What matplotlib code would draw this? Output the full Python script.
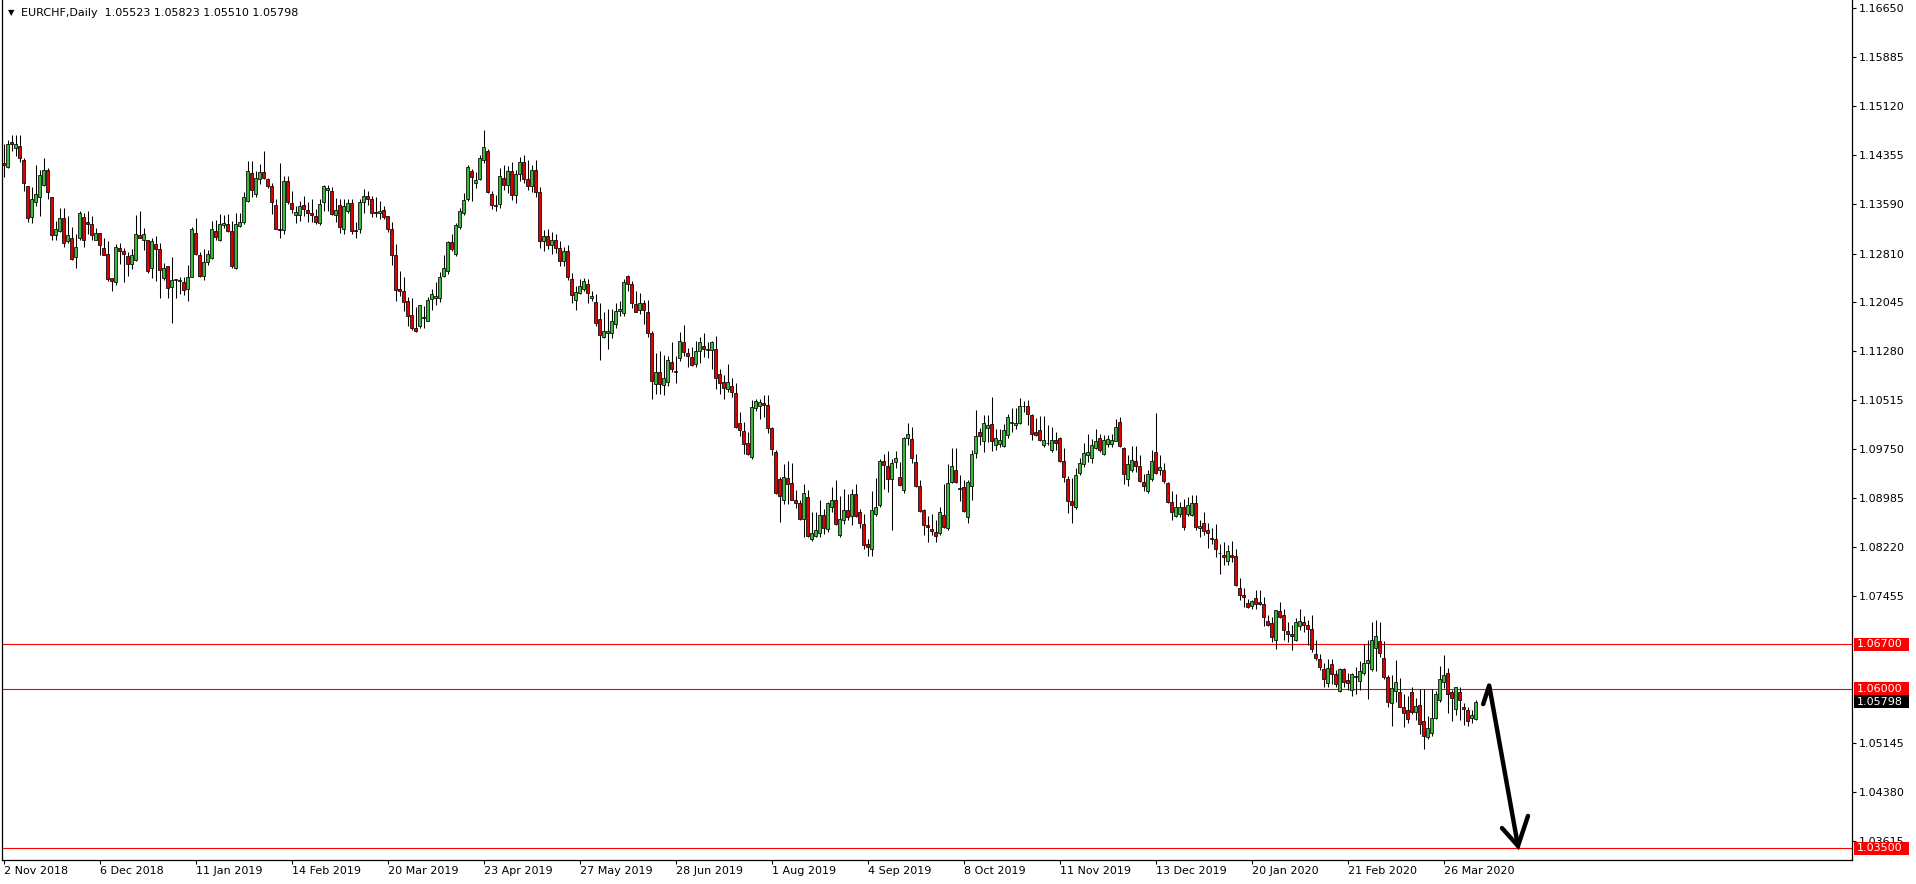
import matplotlib
matplotlib.use("Agg")
import matplotlib.pyplot as plt
from matplotlib.patches import Rectangle
import matplotlib.transforms as mtrans
import numpy as np

plt.rcParams['font.family'] = ['DejaVu Sans']

# ---------------- data (EURCHF daily) ----------------
opens = [
 1.1423,1.1417,1.1455,1.1446,1.1450,1.1428,1.1387,1.1339,1.1362,1.1370,
 1.1389,1.1412,1.1370,1.1310,1.1317,1.1337,1.1301,1.1305,1.1275,1.1305,
 1.1338,1.1330,1.1327,1.1303,1.1313,1.1290,1.1280,1.1242,1.1236,1.1290,
 1.1285,1.1277,1.1264,1.1271,1.1310,1.1303,1.1303,1.1259,1.1296,1.1288,
 1.1243,1.1262,1.1228,1.1239,1.1238,1.1236,1.1225,1.1245,1.1313,1.1278,
 1.1246,1.1268,1.1274,1.1317,1.1303,1.1325,1.1327,1.1316,1.1258,1.1324,
 1.1331,1.1363,1.1407,1.1374,1.1397,1.1409,1.1397,1.1387,1.1357,1.1319,
 1.1318,1.1395,1.1360,1.1342,1.1341,1.1357,1.1349,1.1345,1.1340,1.1329,
 1.1361,1.1381,1.1379,1.1342,1.1357,1.1320,1.1347,1.1360,1.1318,1.1320,
 1.1361,1.1371,1.1366,1.1346,1.1344,1.1349,1.1340,1.1319,1.1279,1.1225,
 1.1223,1.1206,1.1185,1.1165,1.1167,1.1180,1.1176,1.1210,1.1211,1.1211,
 1.1246,1.1254,1.1299,1.1280,1.1322,1.1344,1.1366,1.1410,1.1392,1.1397,
 1.1427,1.1441,1.1374,1.1355,1.1358,1.1400,1.1388,1.1410,1.1372,1.1405,
 1.1425,1.1398,1.1386,1.1412,1.1378,1.1300,1.1308,1.1295,1.1302,1.1290,
 1.1270,1.1285,1.1241,1.1209,1.1219,1.1225,1.1234,1.1211,1.1205,1.1178,
 1.1151,1.1157,1.1156,1.1170,1.1191,1.1188,1.1246,1.1233,1.1202,1.1192,
 1.1203,1.1190,1.1156,1.1077,1.1096,1.1075,1.1080,1.1112,1.1096,1.1117,
 1.1143,1.1126,1.1119,1.1108,1.1128,1.1137,1.1130,1.1130,1.1131,1.1092,
 1.1080,1.1069,1.1074,1.1063,1.1016,1.1004,1.0985,1.0963,1.1039,1.1042,
 1.1047,1.1044,1.1008,1.0971,1.0929,1.0896,1.0930,1.0922,1.0895,1.0891,
 1.0866,1.0900,1.0835,1.0839,1.0844,1.0872,1.0850,1.0885,1.0896,1.0841,
 1.0864,1.0879,1.0870,1.0904,1.0876,1.0858,1.0826,1.0819,1.0873,1.0887,
 1.0957,1.0949,1.0928,1.0955,1.0931,1.0911,1.0993,1.0991,1.0955,1.0918,
 1.0879,1.0856,1.0850,1.0846,1.0843,1.0872,1.0851,1.0923,1.0942,1.0913,
 1.0915,1.0868,1.0917,1.0969,1.1002,1.0987,1.1008,1.1014,1.0982,1.0983,
 1.0980,1.0997,1.1016,1.1013,1.1016,1.1042,1.1043,1.1028,1.1002,1.1005,
 1.0982,1.0984,1.0974,1.0989,1.0993,1.0957,1.0929,1.0894,1.0884,1.0937,
 1.0951,1.0965,1.0961,1.0977,1.0993,1.0968,1.0983,1.0983,1.0988,1.1018,
 1.0976,1.0928,1.0943,1.0956,1.0949,1.0924,1.0910,1.0929,1.0971,1.0943,
 1.0942,1.0922,1.0892,1.0870,1.0874,1.0884,1.0874,1.0872,1.0891,1.0851,
 1.0860,1.0848,1.0835,1.0835,1.0812,1.0809,1.0800,1.0809,1.0807,1.0758,
 1.0747,1.0734,1.0730,1.0742,1.0735,1.0733,1.0706,1.0703,1.0676,1.0721,
 1.0715,1.0690,1.0685,1.0676,1.0698,1.0704,1.0699,1.0694,1.0654,1.0647,
 1.0631,1.0609,1.0639,1.0623,1.0597,1.0631,1.0614,1.0598,1.0618,1.0612,
 1.0624,1.0641,1.0631,1.0664,1.0675,1.0648,1.0619,1.0578,1.0596,1.0595,
 1.0572,1.0566,1.0595,1.0563,1.0574,1.0549,1.0524,1.0530,1.0554,1.0582,
 1.0610,1.0624,1.0595,1.0568,1.0595,1.0572,1.0566,1.0554,1.05523,
]
highs = [
 1.1453,1.1459,1.1467,1.1467,1.1467,1.1430,1.1387,1.1385,1.1419,1.1411,
 1.1430,1.1415,1.1370,1.1332,1.1352,1.1352,1.1340,1.1322,1.1311,1.1347,
 1.1345,1.1347,1.1340,1.1321,1.1313,1.1306,1.1301,1.1242,1.1296,1.1298,
 1.1290,1.1283,1.1288,1.1341,1.1347,1.1321,1.1303,1.1306,1.1309,1.1298,
 1.1267,1.1262,1.1276,1.1241,1.1244,1.1244,1.1263,1.1322,1.1336,1.1283,
 1.1288,1.1286,1.1332,1.1333,1.1343,1.1341,1.1343,1.1332,1.1345,1.1345,
 1.1378,1.1426,1.1426,1.1410,1.1421,1.1441,1.1400,1.1392,1.1366,1.1422,
 1.1403,1.1403,1.1379,1.1356,1.1363,1.1371,1.1362,1.1366,1.1350,1.1366,
 1.1388,1.1388,1.1385,1.1368,1.1366,1.1366,1.1366,1.1366,1.1330,1.1366,
 1.1382,1.1379,1.1371,1.1370,1.1363,1.1356,1.1340,1.1330,1.1296,1.1254,
 1.1244,1.1213,1.1211,1.1197,1.1201,1.1199,1.1213,1.1226,1.1237,1.1252,
 1.1278,1.1301,1.1311,1.1329,1.1352,1.1376,1.1419,1.1413,1.1408,1.1436,
 1.1474,1.1444,1.1379,1.1372,1.1415,1.1420,1.1418,1.1425,1.1412,1.1432,
 1.1435,1.1428,1.1420,1.1428,1.1385,1.1318,1.1320,1.1315,1.1312,1.1300,
 1.1292,1.1295,1.1250,1.1230,1.1241,1.1243,1.1241,1.1222,1.1218,1.1203,
 1.1189,1.1194,1.1194,1.1203,1.1207,1.1241,1.1248,1.1238,1.1223,1.1219,
 1.1209,1.1208,1.1160,1.1125,1.1128,1.1123,1.1121,1.1143,1.1121,1.1158,
 1.1169,1.1134,1.1135,1.1144,1.1151,1.1156,1.1143,1.1144,1.1152,1.1100,
 1.1091,1.1108,1.1086,1.1079,1.1033,1.1017,1.1001,1.1052,1.1053,1.1053,
 1.1060,1.1060,1.1009,1.0973,1.0931,1.0952,1.0956,1.0954,1.0911,1.0895,
 1.0920,1.0911,1.0876,1.0876,1.0896,1.0882,1.0892,1.0915,1.0926,1.0901,
 1.0913,1.0904,1.0912,1.0921,1.0882,1.0874,1.0835,1.0910,1.0930,1.0960,
 1.0967,1.0972,1.0960,1.0972,1.0955,1.0994,1.1016,1.1009,1.0967,1.0927,
 1.0882,1.0871,1.0874,1.0864,1.0885,1.0920,1.0952,1.0977,1.0976,1.0935,
 1.0926,1.0927,1.0974,1.1036,1.1008,1.1029,1.1029,1.1057,1.1007,1.1007,
 1.1014,1.1030,1.1040,1.1040,1.1055,1.1050,1.1052,1.1030,1.1024,1.1027,
 1.1027,1.1013,1.1010,1.1002,1.0994,1.0977,1.0933,1.0930,1.0946,1.0961,
 1.0985,1.0999,1.0991,1.1007,1.0999,1.0997,1.0997,1.0999,1.1022,1.1026,
 1.0978,1.0965,1.0980,1.0980,1.0965,1.0936,1.0942,1.0973,1.1031,1.0965,
 1.0954,1.0924,1.0910,1.0905,1.0893,1.0897,1.0900,1.0903,1.0903,1.0864,
 1.0876,1.0860,1.0852,1.0858,1.0827,1.0830,1.0825,1.0831,1.0818,1.0774,
 1.0757,1.0741,1.0739,1.0754,1.0754,1.0744,1.0715,1.0713,1.0724,1.0735,
 1.0725,1.0704,1.0700,1.0711,1.0725,1.0714,1.0708,1.0715,1.0677,1.0655,
 1.0640,1.0647,1.0647,1.0630,1.0632,1.0632,1.0624,1.0624,1.0634,1.0644,
 1.0670,1.0676,1.0704,1.0707,1.0704,1.0674,1.0622,1.0622,1.0645,1.0617,
 1.0591,1.0588,1.0603,1.0585,1.0599,1.0599,1.0557,1.0599,1.0597,1.0635,
 1.0653,1.0632,1.0598,1.0603,1.0603,1.0578,1.0571,1.0566,1.05823,
]
lows = [
 1.1401,1.1415,1.1442,1.1434,1.1425,1.1379,1.1331,1.1329,1.1355,1.1340,
 1.1387,1.1367,1.1302,1.1303,1.1314,1.1291,1.1298,1.1271,1.1258,1.1303,
 1.1291,1.1311,1.1302,1.1302,1.1278,1.1278,1.1238,1.1222,1.1232,1.1264,
 1.1237,1.1246,1.1257,1.1270,1.1305,1.1286,1.1251,1.1242,1.1238,1.1211,
 1.1239,1.1211,1.1172,1.1211,1.1218,1.1216,1.1207,1.1244,1.1278,1.1244,
 1.1239,1.1263,1.1272,1.1303,1.1301,1.1321,1.1315,1.1259,1.1257,1.1322,
 1.1327,1.1361,1.1369,1.1369,1.1390,1.1397,1.1383,1.1343,1.1319,1.1305,
 1.1311,1.1358,1.1345,1.1329,1.1332,1.1340,1.1331,1.1331,1.1327,1.1325,
 1.1348,1.1348,1.1342,1.1330,1.1313,1.1311,1.1345,1.1311,1.1305,1.1313,
 1.1344,1.1357,1.1339,1.1338,1.1335,1.1335,1.1314,1.1263,1.1207,1.1215,
 1.1191,1.1168,1.1162,1.1159,1.1164,1.1165,1.1175,1.1193,1.1200,1.1205,
 1.1245,1.1249,1.1285,1.1277,1.1320,1.1341,1.1363,1.1363,1.1383,1.1396,
 1.1422,1.1376,1.1351,1.1347,1.1352,1.1380,1.1376,1.1365,1.1360,1.1395,
 1.1392,1.1380,1.1378,1.1370,1.1290,1.1285,1.1288,1.1280,1.1282,1.1262,
 1.1262,1.1240,1.1203,1.1192,1.1217,1.1222,1.1204,1.1207,1.1168,1.1115,
 1.1149,1.1132,1.1149,1.1164,1.1183,1.1183,1.1222,1.1196,1.1189,1.1187,
 1.1170,1.1151,1.1053,1.1062,1.1062,1.1060,1.1073,1.1095,1.1079,1.1113,
 1.1121,1.1104,1.1105,1.1104,1.1109,1.1119,1.1117,1.1101,1.1069,1.1062,
 1.1053,1.1064,1.1056,1.1008,1.0995,1.0968,1.0965,1.0960,1.1034,1.1022,
 1.1026,1.1000,1.0965,1.0904,1.0861,1.0889,1.0889,1.0895,1.0883,1.0864,
 1.0838,1.0838,1.0831,1.0837,1.0838,1.0842,1.0845,1.0877,1.0857,1.0838,
 1.0858,1.0864,1.0857,1.0869,1.0851,1.0819,1.0808,1.0808,1.0871,1.0884,
 1.0912,1.0908,1.0848,1.0946,1.0917,1.0906,1.0981,1.0953,1.0916,1.0877,
 1.0840,1.0830,1.0840,1.0830,1.0840,1.0851,1.0848,1.0922,1.0922,1.0894,
 1.0877,1.0859,1.0896,1.0961,1.0982,1.0970,1.0986,1.0972,1.0973,1.0978,
 1.0978,1.0992,1.1002,1.1007,1.1014,1.1033,1.1012,1.0989,1.0995,1.0987,
 1.0979,1.0981,1.0970,1.0974,1.0955,1.0923,1.0875,1.0859,1.0882,1.0934,
 1.0947,1.0955,1.0954,1.0975,1.0970,1.0965,1.0978,1.0978,1.0987,1.0978,
 1.0921,1.0918,1.0939,1.0939,1.0923,1.0909,1.0906,1.0925,1.0936,1.0935,
 1.0922,1.0891,1.0864,1.0869,1.0869,1.0848,1.0871,1.0871,1.0848,1.0838,
 1.0840,1.0820,1.0827,1.0806,1.0780,1.0793,1.0793,1.0799,1.0760,1.0739,
 1.0728,1.0726,1.0725,1.0725,1.0731,1.0698,1.0698,1.0673,1.0662,1.0711,
 1.0676,1.0673,1.0660,1.0675,1.0692,1.0689,1.0668,1.0658,1.0645,1.0629,
 1.0603,1.0602,1.0608,1.0603,1.0595,1.0602,1.0598,1.0588,1.0591,1.0598,
 1.0622,1.0584,1.0628,1.0627,1.0649,1.0616,1.0572,1.0541,1.0580,1.0571,
 1.0540,1.0547,1.0561,1.0551,1.0529,1.0506,1.0522,1.0526,1.0552,1.0580,
 1.0601,1.0562,1.0549,1.0559,1.0551,1.0544,1.0541,1.0547,1.05510,
]
closes = [
 1.1419,1.1453,1.1452,1.1452,1.1430,1.1391,1.1336,1.1367,1.1374,1.1404,
 1.1412,1.1377,1.1310,1.1319,1.1336,1.1297,1.1310,1.1272,1.1291,1.1345,
 1.1303,1.1327,1.1310,1.1313,1.1294,1.1278,1.1241,1.1238,1.1291,1.1285,
 1.1280,1.1265,1.1279,1.1311,1.1305,1.1311,1.1253,1.1301,1.1288,1.1256,
 1.1259,1.1227,1.1239,1.1241,1.1238,1.1224,1.1245,1.1319,1.1280,1.1246,
 1.1268,1.1280,1.1319,1.1307,1.1328,1.1329,1.1317,1.1261,1.1327,1.1330,
 1.1369,1.1410,1.1381,1.1399,1.1409,1.1400,1.1386,1.1361,1.1319,1.1318,
 1.1395,1.1362,1.1350,1.1346,1.1356,1.1351,1.1345,1.1342,1.1331,1.1358,
 1.1387,1.1384,1.1343,1.1349,1.1323,1.1356,1.1360,1.1317,1.1316,1.1362,
 1.1371,1.1367,1.1344,1.1344,1.1348,1.1339,1.1319,1.1279,1.1224,1.1222,
 1.1205,1.1183,1.1164,1.1160,1.1200,1.1182,1.1209,1.1218,1.1215,1.1245,
 1.1258,1.1299,1.1288,1.1326,1.1348,1.1365,1.1417,1.1401,1.1396,1.1430,
 1.1448,1.1377,1.1357,1.1357,1.1402,1.1388,1.1410,1.1372,1.1405,1.1425,
 1.1398,1.1386,1.1412,1.1378,1.1300,1.1308,1.1295,1.1302,1.1290,1.1270,
 1.1285,1.1245,1.1216,1.1221,1.1231,1.1238,1.1219,1.1215,1.1173,1.1153,
 1.1160,1.1160,1.1176,1.1191,1.1194,1.1236,1.1233,1.1203,1.1190,1.1203,
 1.1192,1.1156,1.1082,1.1096,1.1077,1.1086,1.1115,1.1100,1.1096,1.1144,
 1.1127,1.1120,1.1107,1.1129,1.1143,1.1132,1.1130,1.1143,1.1087,1.1079,
 1.1070,1.1080,1.1064,1.1010,1.1005,1.0983,1.0968,1.1041,1.1051,1.1049,
 1.1044,1.1008,1.0975,1.0906,1.0902,1.0931,1.0921,1.0896,1.0891,1.0866,
 1.0907,1.0839,1.0844,1.0848,1.0872,1.0852,1.0890,1.0896,1.0858,1.0865,
 1.0879,1.0868,1.0905,1.0871,1.0859,1.0825,1.0822,1.0879,1.0885,1.0957,
 1.0950,1.0929,1.0954,1.0961,1.0919,1.0993,1.0999,1.0961,1.0917,1.0878,
 1.0857,1.0853,1.0847,1.0839,1.0876,1.0853,1.0922,1.0949,1.0923,1.0913,
 1.0878,1.0924,1.0967,1.0996,1.0995,1.1016,1.1013,1.0987,1.0992,1.0990,
 1.1005,1.1026,1.1016,1.1016,1.1042,1.1042,1.1030,1.0998,1.0997,1.0989,
 1.0989,1.0984,1.0989,1.0985,1.0956,1.0931,1.0894,1.0888,1.0934,1.0954,
 1.0969,1.0971,1.0981,1.0987,1.0974,1.0989,1.0991,1.0989,1.1010,1.0980,
 1.0936,1.0952,1.0958,1.0948,1.0925,1.0917,1.0936,1.0957,1.0937,1.0947,
 1.0925,1.0892,1.0877,1.0884,1.0885,1.0853,1.0887,1.0890,1.0853,1.0854,
 1.0847,1.0844,1.0835,1.0818,1.0812,1.0806,1.0815,1.0806,1.0762,1.0747,
 1.0744,1.0728,1.0737,1.0733,1.0732,1.0712,1.0700,1.0681,1.0723,1.0712,
 1.0692,1.0686,1.0683,1.0704,1.0706,1.0699,1.0694,1.0662,1.0648,1.0634,
 1.0615,1.0633,1.0623,1.0607,1.0631,1.0611,1.0609,1.0623,1.0620,1.0628,
 1.0641,1.0645,1.0677,1.0682,1.0656,1.0619,1.0580,1.0601,1.0610,1.0572,
 1.0562,1.0553,1.0563,1.0573,1.0545,1.0526,1.0538,1.0554,1.0592,1.0616,
 1.0622,1.0591,1.0585,1.0602,1.0582,1.0568,1.0549,1.0559,1.05798,
]

date_labels = ["2 Nov 2018", "6 Dec 2018", "11 Jan 2019", "14 Feb 2019",
               "20 Mar 2019", "23 Apr 2019", "27 May 2019", "28 Jun 2019",
               "1 Aug 2019", "4 Sep 2019", "8 Oct 2019", "11 Nov 2019",
               "13 Dec 2019", "20 Jan 2020", "21 Feb 2020", "26 Mar 2020"]
date_label_bars = [0, 24, 48, 72, 96, 120, 144, 168, 192, 216, 240, 264,
                   288, 312, 336, 360]

price_ticks = [1.16650, 1.15885, 1.15120, 1.14355, 1.13590, 1.12810, 1.12045,
               1.11280, 1.10515, 1.09750, 1.08985, 1.08220, 1.07455,
               1.05145, 1.04380, 1.03615]
levels = [1.06700, 1.06000, 1.03500]
last_price = 1.05798
header = "EURCHF,Daily  1.05523 1.05823 1.05510 1.05798"

# arrow annotation (bar index, price)
arrow_x = [369.9, 371.4, 378.6]
arrow_y = [1.0576, 1.0605, 1.0354]
head_x = [374.6, 378.6, 381.1]
head_y = [1.0382, 1.0354, 1.0401]

# ---------------- figure ----------------
W, H, DPI = 1916, 884, 100
fig = plt.figure(figsize=(W / DPI, H / DPI), dpi=DPI)
fig.patch.set_facecolor("white")
L_px, R_px, T_px, B_px = 2, 1852, 0, 860
ax = fig.add_axes([L_px / W, 1 - B_px / H, (R_px - L_px) / W, (B_px - T_px) / H])
ax.set_facecolor("white")

n = len(closes)
x = np.arange(n)
o = np.array(opens); h = np.array(highs); l = np.array(lows); c = np.array(closes)

ax.vlines(x, l, h, color="black", linewidth=0.75, zorder=2)
up = c >= o
body_bottom = np.minimum(o, c)
body_h = np.maximum(np.abs(c - o), 0.00012)
cols = np.where(up, "#3cb83c", "#e00000")
ax.bar(x, body_h, bottom=body_bottom, width=0.6, color=cols,
       edgecolor="black", linewidth=0.55, zorder=3)

for lv in levels:
    ax.axhline(lv, color="#ff0000", linewidth=0.8, zorder=1)

ax.plot(arrow_x, arrow_y, color="black", linewidth=3.2, solid_capstyle="round",
        solid_joinstyle="round", zorder=5)
ax.plot(head_x, head_y, color="black", linewidth=3.2, solid_capstyle="round",
        solid_joinstyle="miter", zorder=5)

ax.set_xlim(-0.4, 462.1)
ax.set_ylim(1.03320, 1.16778)

for s in ["top"]:
    ax.spines[s].set_visible(False)
for s in ["left", "right", "bottom"]:
    ax.spines[s].set_linewidth(0.9)
    ax.spines[s].set_color("black")

ax.yaxis.tick_right()
ax.set_yticks(price_ticks)
ax.set_yticklabels([f"{v:.5f}" for v in price_ticks])
ax.tick_params(axis="y", direction="out", length=3, width=0.8, pad=2,
               labelsize=8, colors="black")
ax.set_xticks(date_label_bars)
ax.set_xticklabels(date_labels)
ax.tick_params(axis="x", direction="out", length=3, width=0.8, pad=1.5,
               labelsize=8, colors="black")
for lbl in ax.get_xticklabels():
    lbl.set_horizontalalignment("left")

# price boxes on right axis
tr = mtrans.blended_transform_factory(ax.transAxes, ax.transData)
ppx = (1.16778 - 1.03320) / (B_px - T_px)  # price per pixel
box_x0 = (1854 - L_px) / (R_px - L_px)
box_w = 55 / (R_px - L_px)
txt_x = (1857 - L_px) / (R_px - L_px)
for lv, fc in [(1.06700, "#ff0000"), (1.06000, "#ff0000"), (1.03500, "#ff0000"),
               (last_price, "black")]:
    ax.add_patch(Rectangle((box_x0, lv - 6.5 * ppx), box_w, 13 * ppx,
                           transform=tr, facecolor=fc, edgecolor="none",
                           clip_on=False, zorder=6))
    ax.text(txt_x, lv, f"{lv:.5f}", transform=tr, color="white", fontsize=8,
            va="center", ha="left", clip_on=False, zorder=7)

fig.text(8 / W, 1 - 13 / H, "\u25bc", fontsize=6, va="center", ha="left", color="black")
fig.text(21 / W, 1 - 13 / H, header, fontsize=8, va="center", ha="left", color="black")

fig.savefig("out.png", dpi=DPI, facecolor="white")
